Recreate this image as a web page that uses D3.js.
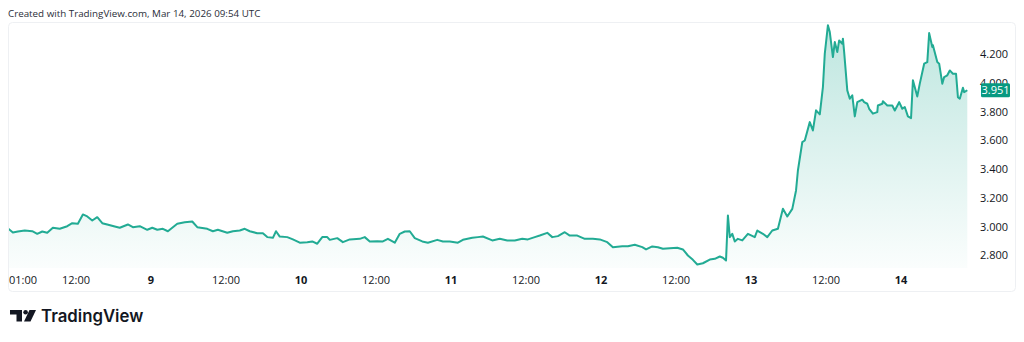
<!DOCTYPE html>
<html lang="en">
    <head>
        <meta charset="utf-8">
        <title>Price chart Mar 8 - Mar 14 2026</title>
        <script src="https://d3js.org/d3.v7.min.js"></script>
        <style type="text/css">
            html, body {
                margin: 0;
                padding: 0;
                background-color: #ffffff;
            }
            svg {
                display: block;
            }
            .header {
                font-family: "Open Sans", sans-serif;
                font-size: 9.8px;
                fill: #2a2e39;
            }
            .tick-label {
                font-family: "Open Sans", sans-serif;
                font-size: 11px;
                fill: #131722;
            }
            .day-label {
                font-weight: 700;
            }
            .logo-text {
                font-family: Inter, sans-serif;
                font-size: 16.8px;
                font-weight: 600;
                fill: #131722;
            }
        </style>
    </head>

    <body>
        <script type="text/javascript">
            // hours after Mar 8 2026 01:00 UTC
            const hoursFromStart = [
                0, 0.9, 1.7, 2.8, 4.0, 4.8, 5.6, 6.4, 7.3, 8.4,
                9.6, 10.4, 11.3, 12.1, 12.8, 13.6, 14.4, 15.2, 16.0, 17.2,
                18.0, 19.3, 20.1, 21.2, 22.4, 23.2, 24.0, 24.9, 25.7, 26.5,
                27.2, 28.4, 29.6, 30.4, 32.0, 32.9, 33.7, 35.2, 36.1, 37.2,
                38.0, 38.8, 40.0, 40.9, 41.6, 42.5, 43.0, 43.6, 44.8, 45.7,
                46.8, 48.0, 48.8, 49.6, 50.4, 51.2, 51.6, 52.8, 53.7, 54.8,
                56.4, 57.2, 58.0, 59.2, 60.1, 60.9, 62.0, 62.8, 63.6, 64.4,
                65.2, 66.4, 67.3, 68.8, 69.7, 70.8, 72.1, 72.9, 74.4, 75.3,
                76.1, 77.6, 78.8, 80.0, 81.2, 82.4, 83.3, 84.4, 85.2, 86.4,
                87.2, 88.1, 89.2, 90.0, 91.2, 92.4, 93.7, 94.8, 96.0, 96.9,
                98.4, 99.3, 100.4, 101.6, 102.2, 103.2, 104.1, 104.9, 106.0, 107.2,
                108.1, 108.9, 109.7, 110.4, 111.3, 112.4, 113.2, 114.0, 114.5, 115.0,
                115.3, 115.6, 116.0, 116.4, 116.9, 117.6, 118.5, 119.6, 120.0, 120.9,
                121.6, 122.4, 123.3, 124.1, 124.8, 125.6, 126.2, 126.5, 127.2, 127.6,
                128.4, 128.9, 129.4, 130.0, 130.5, 130.8, 131.3, 131.6, 132.1, 132.4,
                132.8, 133.1, 133.6, 133.7, 133.9, 134.4, 134.8, 135.2, 135.6, 136.0,
                136.8, 137.1, 137.6, 137.9, 138.5, 139.2, 139.3, 140.0, 140.1, 140.8,
                141.6, 142.0, 142.7, 143.2, 143.6, 144.1, 144.6, 144.9, 145.6, 146.0,
                146.7, 147.2, 147.5, 148.0, 148.1, 148.8, 149.1, 149.6, 149.9, 150.4,
                150.8, 151.3, 151.8, 152.1, 152.4, 152.9, 153.1, 153.6
            ];
            const prices = [
                2.993, 2.960, 2.967, 2.974, 2.969, 2.951, 2.967, 2.958, 2.993, 2.986,
                3.004, 3.025, 3.021, 3.086, 3.072, 3.044, 3.067, 3.025, 3.016, 3.002,
                2.993, 3.016, 2.997, 3.004, 2.979, 2.993, 2.979, 2.986, 2.969, 2.997,
                3.021, 3.032, 3.037, 2.997, 2.986, 2.969, 2.979, 2.958, 2.969, 2.974,
                2.986, 2.969, 2.955, 2.955, 2.928, 2.923, 2.969, 2.932, 2.928, 2.912,
                2.889, 2.893, 2.898, 2.882, 2.928, 2.928, 2.909, 2.921, 2.893, 2.912,
                2.916, 2.928, 2.898, 2.900, 2.898, 2.916, 2.889, 2.951, 2.967, 2.969,
                2.921, 2.898, 2.889, 2.909, 2.898, 2.898, 2.889, 2.909, 2.923, 2.928,
                2.932, 2.905, 2.916, 2.905, 2.905, 2.916, 2.912, 2.928, 2.939, 2.958,
                2.928, 2.935, 2.962, 2.939, 2.939, 2.916, 2.916, 2.912, 2.893, 2.858,
                2.865, 2.865, 2.875, 2.858, 2.842, 2.863, 2.858, 2.847, 2.851, 2.854,
                2.842, 2.800, 2.770, 2.737, 2.746, 2.772, 2.777, 2.793, 2.784, 2.765,
                3.079, 2.928, 2.951, 2.898, 2.916, 2.905, 2.951, 2.928, 2.974, 2.951,
                2.928, 2.974, 2.986, 3.125, 3.072, 3.125, 3.253, 3.392, 3.590, 3.601,
                3.729, 3.671, 3.811, 3.783, 3.973, 4.206, 4.403, 4.356, 4.182, 4.287,
                4.217, 4.298, 4.275, 4.310, 4.217, 3.950, 3.892, 3.915, 3.769, 3.868,
                3.885, 3.868, 3.857, 3.822, 3.788, 3.799, 3.845, 3.857, 3.875, 3.845,
                3.845, 3.810, 3.868, 3.822, 3.834, 3.769, 3.757, 4.020, 3.908, 3.997,
                4.136, 4.147, 4.349, 4.252, 4.264, 4.147, 4.136, 3.997, 4.043, 4.055,
                4.089, 4.066, 4.066, 3.903, 3.892, 3.969, 3.938, 3.951
            ];
            const priceTicks = [2.8, 3.0, 3.2, 3.4, 3.6, 3.8, 4.0, 4.2];
            const timeTicks = [
                "2026-03-08T01:00:00Z", "2026-03-08T12:00:00Z",
                "2026-03-09T00:00:00Z", "2026-03-09T12:00:00Z",
                "2026-03-10T00:00:00Z", "2026-03-10T12:00:00Z",
                "2026-03-11T00:00:00Z", "2026-03-11T12:00:00Z",
                "2026-03-12T00:00:00Z", "2026-03-12T12:00:00Z",
                "2026-03-13T00:00:00Z", "2026-03-13T12:00:00Z",
                "2026-03-14T00:00:00Z"
            ];
            const lastPrice = 3.951;
            const headerText = "Created with TradingView.com, Mar 14, 2026 09:54 UTC";

            const startTime = new Date("2026-03-08T01:00:00Z");
            const endTime = new Date("2026-03-14T11:50:00Z");

            const data = hoursFromStart.map((h, i) => ({
                date: new Date(startTime.getTime() + h * 3600 * 1000),
                value: prices[i]
            }));

            const w = 1024, h = 342;
            const panel = {left: 8, top: 22, right: 1015, bottom: 291};
            const plotBottom = 268, plotRight = 975;

            const x = d3.scaleUtc()
                        .domain([startTime, endTime])
                        .range([7.25, plotRight]);
            const y = d3.scaleLinear()
                        .domain([2.8, 4.2])
                        .range([255.5, 54.5]);

            const svg = d3.select("body").append("svg")
                          .attr("width", w)
                          .attr("height", h);

            const defs = svg.append("defs");
            const grad = defs.append("linearGradient")
                             .attr("id", "areaFill")
                             .attr("gradientUnits", "userSpaceOnUse")
                             .attr("x1", 0).attr("y1", 22)
                             .attr("x2", 0).attr("y2", plotBottom);
            grad.append("stop").attr("offset", "0%").attr("stop-color", "#22ab94").attr("stop-opacity", 0.3);
            grad.append("stop").attr("offset", "100%").attr("stop-color", "#22ab94").attr("stop-opacity", 0.02);

            defs.append("clipPath").attr("id", "plotClip")
                .append("rect")
                .attr("x", panel.left + 1).attr("y", panel.top + 1)
                .attr("width", plotRight - panel.left - 1)
                .attr("height", plotBottom - panel.top - 1);

            // header
            svg.append("text")
               .attr("class", "header")
               .attr("x", 8)
               .attr("y", 16.5)
               .text(headerText);

            // panel frame
            svg.append("rect")
               .attr("x", panel.left + 0.5)
               .attr("y", panel.top + 0.5)
               .attr("width", panel.right - panel.left)
               .attr("height", panel.bottom - panel.top)
               .attr("rx", 4)
               .attr("fill", "#ffffff")
               .attr("stroke", "#eef0f3");

            const plot = svg.append("g").attr("clip-path", "url(#plotClip)");

            const area = d3.area()
                           .x(d => x(d.date))
                           .y0(plotBottom)
                           .y1(d => y(d.value));
            const line = d3.line()
                           .x(d => x(d.date))
                           .y(d => y(d.value));

            plot.append("path")
                .datum(data)
                .attr("fill", "url(#areaFill)")
                .attr("d", area);

            plot.append("path")
                .datum(data)
                .attr("fill", "none")
                .attr("stroke", "#22ab94")
                .attr("stroke-width", 2)
                .attr("stroke-linejoin", "round")
                .attr("d", line);

            // price scale
            svg.append("g").selectAll("text")
               .data(priceTicks)
               .enter()
               .append("text")
               .attr("class", "tick-label")
               .attr("x", 980)
               .attr("y", d => y(d))
               .attr("dy", "0.35em")
               .text(d => d3.format(".3f")(d));

            // last price label
            const lp = svg.append("g").attr("transform", "translate(981," + y(lastPrice) + ")");
            lp.append("rect")
              .attr("x", 0).attr("y", -7)
              .attr("width", 29).attr("height", 14)
              .attr("rx", 1.5)
              .attr("fill", "#089981");
            lp.append("text")
              .attr("class", "tick-label")
              .attr("x", 14.5)
              .attr("dy", "0.35em")
              .attr("text-anchor", "middle")
              .style("fill", "#ffffff")
              .text(d3.format(".3f")(lastPrice));

            // time scale
            const fmtHour = d3.utcFormat("%H:%M");
            const fmtDay = d3.utcFormat("%-d");
            const isDay = d => d.getUTCHours() === 0 && d.getUTCMinutes() === 0;

            const tLabels = svg.append("g").selectAll("text")
               .data(timeTicks.map(s => new Date(s)))
               .enter()
               .append("text")
               .attr("class", d => isDay(d) ? "tick-label day-label" : "tick-label")
               .attr("y", 280)
               .attr("dy", "0.35em")
               .attr("text-anchor", "middle")
               .text(d => isDay(d) ? fmtDay(d) : fmtHour(d));
            tLabels.each(function(d) {
                const tw = this.getComputedTextLength();
                d3.select(this).attr("x", Math.max(x(d), panel.left + 1 + tw / 2));
            });

            // logo
            const logo = svg.append("g").attr("fill", "#131722");
            logo.append("rect").attr("x", 10).attr("y", 310).attr("width", 12).attr("height", 4.5);
            logo.append("rect").attr("x", 16.5).attr("y", 310).attr("width", 5.5).attr("height", 11.5);
            logo.append("circle").attr("cx", 25.6).attr("cy", 312.2).attr("r", 2.3);
            logo.append("polygon").attr("points", "29.5,310 36,310 30.5,321.5 24,321.5");
            svg.append("text")
               .attr("class", "logo-text")
               .attr("x", 41)
               .attr("y", 322)
               .text("TradingView");
        </script>
    </body>
</html>
